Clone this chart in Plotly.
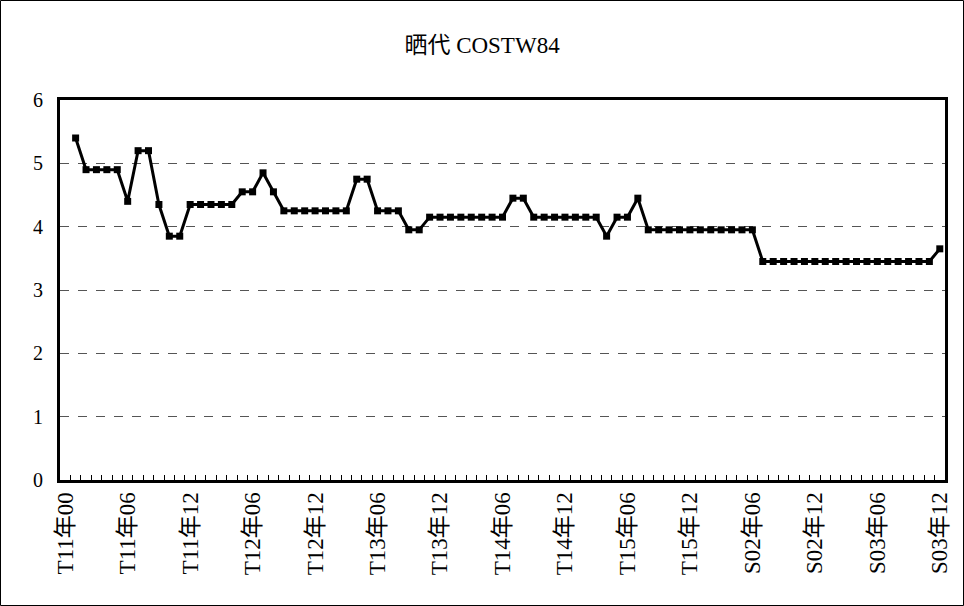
import plotly.graph_objects as go

# --- data ---------------------------------------------------------------
title_text = "晒代 COSTW84"
eras = ["T11", "T12", "T13", "T14", "T15", "S02", "S03"]
months = ["T11年00"] + [f"{e}年{m:02d}" for e in eras for m in range(1, 13)]

values = [None,
          5.4, 4.9, 4.9, 4.9, 4.9, 4.4, 5.2, 5.2, 4.35, 3.85, 3.85, 4.35,
          4.35, 4.35, 4.35, 4.35, 4.55, 4.55, 4.85, 4.55, 4.25, 4.25, 4.25, 4.25,
          4.25, 4.25, 4.25, 4.75, 4.75, 4.25, 4.25, 4.25, 3.95, 3.95, 4.15, 4.15,
          4.15, 4.15, 4.15, 4.15, 4.15, 4.15, 4.45, 4.45, 4.15, 4.15, 4.15, 4.15,
          4.15, 4.15, 4.15, 3.85, 4.15, 4.15, 4.45, 3.95, 3.95, 3.95, 3.95, 3.95,
          3.95, 3.95, 3.95, 3.95, 3.95, 3.95, 3.45, 3.45, 3.45, 3.45, 3.45, 3.45,
          3.45, 3.45, 3.45, 3.45, 3.45, 3.45, 3.45, 3.45, 3.45, 3.45, 3.45, 3.65]

tick_labels = [m if i % 6 == 0 else "" for i, m in enumerate(months)]
y_ticks = [0, 1, 2, 3, 4, 5, 6]

# --- figure -------------------------------------------------------------
W, H = 964, 606
ML, MR, MT, MB = 60, 19, 100, 126
PW, PH = W - ML - MR, H - MT - MB

serif = "Liberation Serif, 'Times New Roman', 'Noto Sans CJK JP', serif"

fig = go.Figure(go.Scatter(
    x=months, y=values, mode="lines+markers",
    line=dict(color="black", width=3),
    marker=dict(symbol="square", size=7, color="black"),
    connectgaps=False, showlegend=False,
))

fig.update_layout(
    width=W, height=H,
    margin=dict(l=ML, r=MR, t=MT, b=MB),
    paper_bgcolor="white", plot_bgcolor="white",
    font=dict(family=serif, color="black"),
    title=dict(text=title_text, x=0.5, xanchor="center", y=1 - 45 / H,
               yanchor="middle", font=dict(size=23, family=serif)),
    xaxis=dict(
        type="category",
        categoryorder="array", categoryarray=months,
        tickmode="array", tickvals=months, ticktext=tick_labels,
        tickangle=-90, tickfont=dict(size=23, family=serif),
        ticks="inside", ticklen=5, tickwidth=1, tickcolor="black",
        tickson="boundaries",
        showline=True, linewidth=3, linecolor="black", mirror=True,
        showgrid=False, zeroline=False,
        range=[-0.5, len(months) - 0.5],
    ),
    yaxis=dict(
        range=[0, 6], tickmode="array", tickvals=y_ticks,
        tickfont=dict(size=20, family=serif),
        showline=True, linewidth=3, linecolor="black", mirror=True,
        showgrid=True, gridcolor="#555555", gridwidth=1, griddash="dash",
        zeroline=False, ticks="", ticklabelstandoff=10,
    ),
    shapes=[dict(
        type="rect", xref="paper", yref="paper",
        x0=(-ML + 0.5) / PW, x1=1 + (MR - 0.5) / PW,
        y0=(-MB + 0.5) / PH, y1=1 + (MT - 0.5) / PH,
        line=dict(color="black", width=1), layer="below",
    )],
)

fig.write_html("out.html",
               config={"displayModeBar": False},
               post_script="document.body.style.margin='0';"
                           "document.body.style.overflow='hidden';")
